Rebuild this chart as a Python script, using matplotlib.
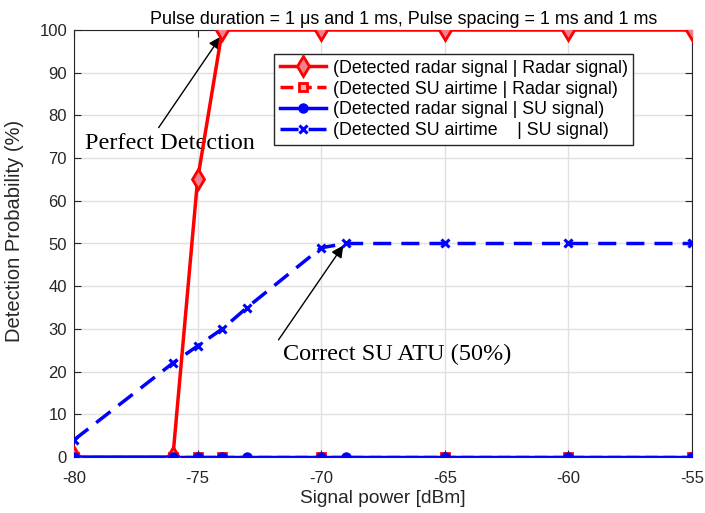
import matplotlib
matplotlib.use("Agg")
import matplotlib.pyplot as plt

x_rr = [-80, -76, -75, -74, -70, -65, -60, -55]
y_rr = [0, 0, 65, 100, 100, 100, 100, 100]
x_ar = [-80, -76, -75, -74, -70, -65, -60, -55]
y_ar = [0, 0, 0, 0, 0, 0, 0, 0]
x_rs = [-80, -76, -75, -74, -73, -70, -69, -65, -60, -55]
y_rs = [0, 0, 0, 0, 0, 0, 0, 0, 0, 0]
x_as = [-80, -76, -75, -74, -73, -70, -69, -65, -60, -55]
y_as = [4, 22, 26, 30, 35, 49, 50, 50, 50, 50]
xticks = [-80, -75, -70, -65, -60, -55]
yticks = list(range(0, 101, 10))

plt.rcParams['font.family'] = ['Liberation Sans', 'DejaVu Sans']
plt.rcParams['axes.unicode_minus'] = False
fig = plt.figure(figsize=(7.05, 5.13), dpi=100)
ax = fig.add_axes([74/705, 1-457/513, 618/705, 427/513])

ax.plot(x_rr, y_rr, '-', color='red', lw=2.5, marker='d', ms=10, mfc='#f08090', mec='red', mew=2,
        label='(Detected radar signal | Radar signal)', zorder=4)
ax.plot(x_ar, y_ar, '--', color='red', lw=2.5, marker='s', ms=6, mfc='#ffb0b0', mec='red', mew=2,
        label='(Detected SU airtime | Radar signal)', zorder=3)
ax.plot(x_rs, y_rs, '-', color='blue', lw=2.5, marker='o', ms=6.5, mfc='blue', mec='blue',
        label='(Detected radar signal | SU signal)', zorder=5)
ax.plot(x_as, y_as, '--', color='blue', lw=2.5, marker='x', ms=6, mew=2.2, dashes=(5.2, 2.9),
        label='(Detected SU airtime    | SU signal)', zorder=4)

ax.set_xlim(-80, -55)
ax.set_ylim(0, 100)
ax.set_xticks(xticks)
ax.set_yticks(yticks)
ax.tick_params(direction='in', labelsize=12, top=True, right=True, length=5, colors='#262626')
ax.tick_params(axis='x', pad=10)
ax.tick_params(axis='y', pad=5)
ax.grid(True, color='#e0e0e0', lw=1)
ax.set_axisbelow(True)
for s in ax.spines.values():
    s.set_color('#262626')
ax.set_xlabel('Signal power [dBm]', fontsize=13.8, color='#262626', labelpad=3)
ax.set_ylabel('Detection Probability (%)', fontsize=14.5, color='#262626')
ax.yaxis.set_label_coords(-50/618, 0.529)
ax.set_title('Pulse duration = 1 μs and 1 ms, Pulse spacing = 1 ms and 1 ms', fontsize=12.9, pad=4,
             x=0.534)

leg = ax.legend(loc='upper right', bbox_to_anchor=(0.905, 0.943), fontsize=12.8, frameon=True,
                fancybox=False, edgecolor='#262626', framealpha=1, handlelength=2.6,
                borderpad=0.3, labelspacing=0.22, handletextpad=0.4, borderaxespad=0)
leg.get_frame().set_linewidth(1)

ax.annotate('', xy=(-74, 99), xytext=(-76.64, 76.6),
            arrowprops=dict(arrowstyle='-|>', color='black', lw=1, mutation_scale=18))
ax.text(-79.55, 73.5, 'Perfect Detection', fontsize=17.5, family='Liberation Serif', va='center', ha='left')
ax.annotate('', xy=(-69.04, 50.1), xytext=(-71.79, 26.9),
            arrowprops=dict(arrowstyle='-|>', color='black', lw=1, mutation_scale=18))
ax.text(-71.55, 23.9, 'Correct SU ATU (50%)', fontsize=17.5, family='Liberation Serif', va='center', ha='left')

fig.savefig('out.png', dpi=100)
